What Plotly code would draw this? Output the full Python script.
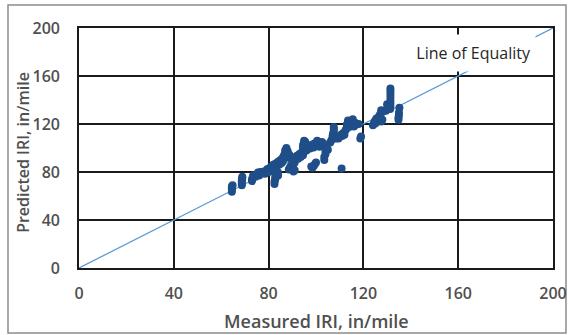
import plotly.graph_objects as go

# Measured vs. predicted IRI (in/mile) for each pavement section
measured = [
    64.5, 64.5, 64.5, 64.5, 64.8,
    68.7, 68.7, 68.7, 68.7, 68.9, 68.9,
    73.0, 73.0, 73.3, 73.5, 74.5, 75.0, 75.5, 76.0, 76.5, 77.5, 78.0, 78.5, 79.0, 79.5, 80.0,
    82.5, 82.5, 82.8, 82.8, 83.0, 83.5, 84.0, 84.0,
    80.5, 81.0, 81.5, 82.0, 82.5, 83.0, 83.5, 84.0, 84.5, 85.0, 85.5, 86.0, 86.0, 86.5, 87.0,
    87.0, 87.5, 88.0, 88.5, 88.0, 89.0, 89.5,
    88.5, 89.0, 89.5, 90.0, 90.5, 91.0, 91.0, 90.5,
    90.0, 91.0, 92.0, 92.5, 93.0, 93.5, 94.0, 94.5, 95.0,
    94.5, 94.5, 94.8, 95.0, 95.5,
    96.0, 96.5, 97.0, 97.5, 98.0, 98.5, 99.0, 99.5, 100.0, 100.5, 101.0, 101.5, 102.0, 102.5, 103.0,
    98.5, 99.0, 99.5, 100.0, 98.0,
    103.5, 103.5, 104.0, 104.0, 104.5, 105.0,
    106.0, 106.5, 107.0, 107.0, 107.2, 107.5, 107.5, 107.5, 108.5,
    109.5, 110.0, 110.5, 111.0, 111.5, 112.0,
    110.8,
    112.5, 113.0, 113.0, 113.5, 113.5, 114.0, 114.5, 115.0, 115.5, 115.5, 116.0, 116.5, 117.0, 118.0,
    118.7, 119.0,
    124.0, 124.5, 125.0, 125.0, 125.5, 126.0, 126.5, 127.0, 127.0, 127.5, 128.0, 128.0, 127.5,
    129.5, 130.0, 130.5, 130.0,
    131.3, 131.4, 131.4, 131.4, 131.4, 131.4, 131.4, 131.4,
    134.8, 134.8, 135.0, 135.0, 135.2,
]
predicted = [
    63.5, 65.0, 66.5, 68.0, 69.0,
    69.0, 70.5, 72.0, 73.5, 75.0, 76.0,
    72.5, 74.0, 75.5, 77.0, 76.0, 78.0, 79.5, 77.0, 80.0, 79.0, 80.5, 78.5, 81.0, 82.5, 80.0,
    70.0, 72.0, 74.0, 76.0, 78.0, 80.0, 77.0, 79.5,
    83.0, 84.5, 82.0, 86.0, 84.0, 87.0, 85.5, 88.5, 86.0, 90.0, 87.5, 89.0, 92.0, 94.0, 96.0,
    98.0, 100.0, 97.5, 95.0, 92.0, 93.5, 91.0,
    82.0, 84.0, 85.5, 83.0, 86.5, 88.0, 81.5, 80.5,
    90.0, 92.0, 93.5, 91.0, 95.0, 92.5, 96.5, 94.0, 97.0,
    100.0, 102.0, 104.0, 106.0, 105.0,
    98.0, 100.0, 102.0, 99.5, 101.0, 103.0, 100.5, 104.0, 102.0, 106.0, 104.0, 101.0, 103.5, 105.0, 104.0,
    83.5, 85.0, 86.5, 88.0, 84.5,
    90.0, 92.5, 95.0, 97.5, 100.0, 98.5,
    104.5, 106.5, 108.0, 110.0, 112.0, 114.0, 116.0, 117.5, 108.0,
    108.0, 109.5, 111.0, 110.0, 112.5, 111.0,
    83.0,
    115.0, 117.0, 119.5, 121.0, 123.0, 118.0, 120.5, 122.5, 124.0, 120.0, 118.0, 121.0, 119.5, 120.0,
    108.0, 109.5,
    119.0, 121.0, 123.0, 120.5, 124.5, 122.0, 126.0, 128.0, 124.0, 122.0, 123.5, 130.0, 131.5,
    131.0, 133.0, 134.5, 136.5,
    132.5, 135.0, 137.5, 140.0, 142.5, 145.0, 147.5, 149.5,
    123.5, 125.5, 127.5, 129.5, 133.5,
]

equality = [0, 200]
tick_vals = [0, 40, 80, 120, 160, 200]

font_family = "'Open Sans', Lato, sans-serif"
label_grey = "#505050"

fig = go.Figure()

# 1:1 reference line
fig.add_trace(go.Scatter(
    x=equality, y=equality, mode="lines",
    line=dict(color="#5b9bd5", width=1.3),
    hoverinfo="skip", showlegend=False,
))

fig.add_trace(go.Scatter(
    x=measured, y=predicted, mode="markers",
    marker=dict(color="#1f4e89", size=8, line=dict(width=0)),
    showlegend=False,
))

axis_common = dict(
    range=[0, 200],
    tickvals=tick_vals,
    showgrid=True, gridcolor="#1a1a1a", gridwidth=1.6,
    showline=True, linecolor="#1a1a1a", linewidth=1.6, mirror=True,
    zeroline=False, ticks="",
    tickfont=dict(family=font_family, size=16, color=label_grey, weight=600),
    automargin=False, fixedrange=True,
)

fig.update_xaxes(**axis_common, ticklabelstandoff=10)
fig.update_yaxes(**axis_common, ticklabelstandoff=14)

fig.update_layout(
    width=568, height=335,
    margin=dict(l=79, r=15, t=28, b=67),
    paper_bgcolor="white", plot_bgcolor="white",
    font=dict(family=font_family, color=label_grey),
    annotations=[
        # label sits on a white box that masks the line and grid behind it
        dict(text="Line of Equality", xref="x", yref="y", x=164.5, y=179.4,
             showarrow=False, bgcolor="white", borderpad=4,
             width=125, height=28, align="right", valign="middle",
             font=dict(family=font_family, size=16, color="#262626")),
        dict(text="Measured IRI, in/mile", xref="paper", yref="paper",
             x=0.5, y=-0.221, showarrow=False, yanchor="middle",
             font=dict(family=font_family, size=18, color=label_grey, weight=600)),
        dict(text="Predicted IRI, in/mile", xref="paper", yref="paper",
             x=-0.118, y=0.48, showarrow=False, textangle=-90,
             xanchor="center", yanchor="middle",
             font=dict(family=font_family, size=16, color=label_grey, weight=600)),
    ],
    shapes=[
        dict(type="rect", xref="paper", yref="paper",
             x0=-0.1498, x1=1.0274, y0=-0.2708, y1=1.0958,
             line=dict(color="#8c8c8c", width=1.5), layer="below"),
    ],
)

fig.write_html("out.html")
